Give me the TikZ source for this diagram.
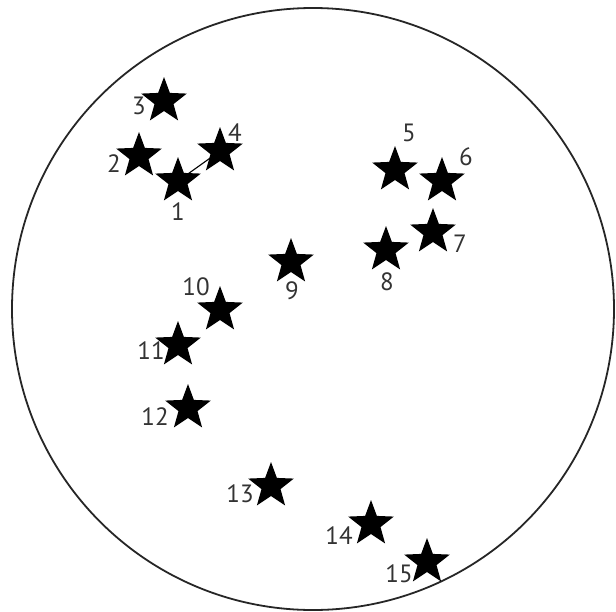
\documentclass[tikz,border=0pt]{standalone}
\usepackage{fontspec}
\setmainfont{PT Sans}
\usetikzlibrary{shapes.geometric,backgrounds}
\begin{document}
\begin{tikzpicture}[x=1pt,y=-1pt,
  starnode/.style={star, star points=5, star point ratio=2.4, minimum size=48pt, inner sep=0pt, fill=black, draw=none},
  lbl/.style={font=\fontsize{25}{25}\selectfont, inner sep=0pt, text=black!80}]
\useasboundingbox (0,0) rectangle (616,611);
\draw[line width=1.8pt, black!85] (313,309) circle[radius=301];
\node[starnode] (s1) at (178,181) {};
\node[starnode] (s2) at (139,156) {};
\node[starnode] (s3) at (164,101) {};
\node[starnode] (s4) at (220,151) {};
\node[starnode] (s5) at (395,170) {};
\node[starnode] (s6) at (442,181) {};
\node[starnode] (s7) at (433,232) {};
\node[starnode] (s8) at (386,250) {};
\node[starnode] (s9) at (291,262) {};
\node[starnode] (s10) at (220,310) {};
\node[starnode] (s11) at (178,345) {};
\node[starnode] (s12) at (188,408) {};
\node[starnode] (s13) at (271,486) {};
\node[starnode] (s14) at (371,524) {};
\node[starnode] (s15) at (427,562) {};
\begin{scope}[on background layer]
\draw[line width=1.1pt] (s1.center) -- (s4.center);
\end{scope}
\node[lbl] (l1) at (178,212) {1};
\node[lbl] (l2) at (114,164) {2};
\node[lbl] (l3) at (139,106) {3};
\node[lbl] (l4) at (235,133) {4};
\node[lbl] (l5) at (409,133) {5};
\node[lbl] (l6) at (466,157) {6};
\node[lbl] (l7) at (460,244) {7};
\node[lbl] (l8) at (387,282) {8};
\node[lbl] (l9) at (292,291) {9};
\node[lbl] (l10) at (196,287) {10};
\node[lbl] (l11) at (151,351) {11};
\node[lbl] (l12) at (155,417) {12};
\node[lbl] (l13) at (240,494) {13};
\node[lbl] (l14) at (339,536) {14};
\node[lbl] (l15) at (399,574) {15};
\end{tikzpicture}
\end{document}
